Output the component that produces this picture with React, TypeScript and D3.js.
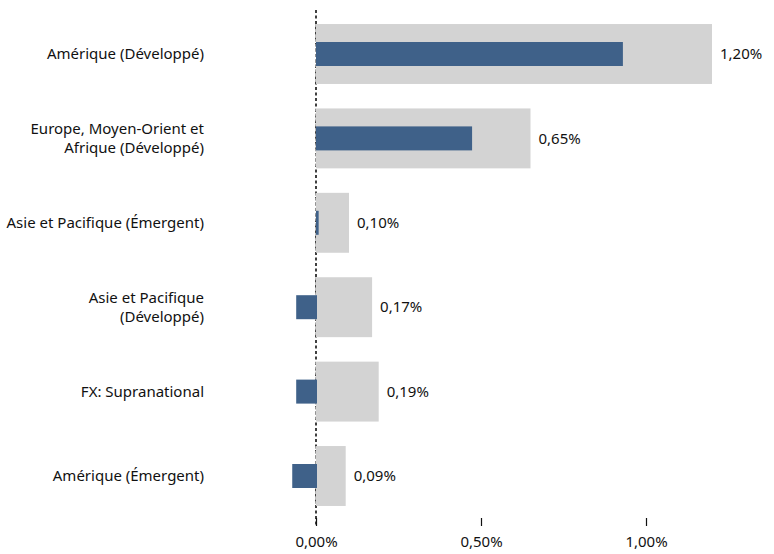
import React, { useEffect, useRef } from 'react';
import * as d3 from 'd3';

const categories = [
  ['Amérique (Développé)'],
  ['Europe, Moyen-Orient et', 'Afrique (Développé)'],
  ['Asie et Pacifique (Émergent)'],
  ['Asie et Pacifique', '(Développé)'],
  ['FX: Supranational'],
  ['Amérique (Émergent)'],
];
const totalValues = [1.2, 0.65, 0.1, 0.17, 0.19, 0.09];
const innerValues = [0.93, 0.473, 0.008, -0.06, -0.06, -0.072];
const tickValues = [0, 0.5, 1.0];

const fmt = (v: number) => v.toFixed(2).replace('.', ',') + '%';

const App: React.FC = () => {
  const svgRef = useRef<SVGSVGElement | null>(null);

  useEffect(() => {
    if (!svgRef.current) return;
    const svg = d3.select(svgRef.current);
    svg.selectAll('*').remove();

    const width = 774;
    const height = 554;
    const font = "'Noto Sans', sans-serif";
    const fs = 15;

    const x = d3.scaleLinear().domain([0, 1]).range([316, 646]);
    const y = d3.scaleBand<number>()
      .domain(d3.range(categories.length))
      .range([11.8, 518.2])
      .paddingInner(0.29)
      .paddingOuter(0.145);

    // zero line
    svg.append('line')
      .attr('x1', x(0)).attr('x2', x(0))
      .attr('y1', 10).attr('y2', 526)
      .attr('stroke', '#111')
      .attr('stroke-width', 1.6)
      .attr('stroke-dasharray', '3,2.5');

    const rows = svg.append('g')
      .selectAll('g')
      .data(categories.map((c, i) => ({ c, i, total: totalValues[i], inner: innerValues[i] })))
      .join('g');

    rows.append('rect')
      .attr('x', d => x(0))
      .attr('y', d => y(d.i)!)
      .attr('width', d => x(d.total) - x(0))
      .attr('height', y.bandwidth())
      .attr('fill', '#d3d3d3');

    rows.append('line')
      .attr('x1', x(0) - 0.5).attr('x2', x(0) - 0.5)
      .attr('y1', d => y(d.i)!)
      .attr('y2', d => y(d.i)! + y.bandwidth())
      .attr('stroke', '#a8a8a8')
      .attr('stroke-width', 0.8)
      .attr('stroke-dasharray', '3,2');

    const innerH = 24;
    rows.append('rect')
      .attr('x', d => x(Math.min(0, d.inner)))
      .attr('y', d => y(d.i)! + (y.bandwidth() - innerH) / 2)
      .attr('width', d => Math.max(2, Math.abs(x(d.inner) - x(0)) + (d.inner < 0 ? 1 : 0)))
      .attr('height', innerH)
      .attr('fill', '#3f6189');

    rows.append('text')
      .attr('x', d => x(d.total) + 8)
      .attr('y', d => y(d.i)! + y.bandwidth() / 2)
      .attr('dy', '0.35em')
      .attr('font-family', font)
      .attr('font-size', fs)
      .attr('fill', '#111')
      .text(d => fmt(d.total));

    const labels = rows.append('text')
      .attr('text-anchor', 'end')
      .attr('font-family', font)
      .attr('font-size', fs)
      .attr('fill', '#111');
    labels.each(function (d) {
      const t = d3.select(this);
      const cy = y(d.i)! + y.bandwidth() / 2;
      const lh = 19.5;
      const start = cy - ((d.c.length - 1) * lh) / 2;
      d.c.forEach((line, k) => {
        t.append('tspan')
          .attr('x', 204)
          .attr('y', start + k * lh)
          .attr('dy', '0.35em')
          .text(line);
      });
    });

    // x axis ticks (no domain line)
    const axis = svg.append('g')
      .attr('transform', 'translate(0,518)')
      .call(d3.axisBottom(x).tickValues(tickValues).tickSize(8).tickPadding(10).tickFormat(v => fmt(v as number)));
    axis.select('.domain').remove();
    axis.selectAll('line').attr('stroke', '#111').attr('stroke-width', 1.2);
    axis.selectAll('text')
      .attr('font-family', font)
      .attr('font-size', fs)
      .attr('fill', '#111');

    svg.attr('viewBox', `0 0 ${width} ${height}`);
  }, []);

  return (
    <svg
      ref={svgRef}
      width={774}
      height={554}
      style={{ position: 'absolute', left: 0, top: 0, background: '#fff' }}
    />
  );
};

export default App;
